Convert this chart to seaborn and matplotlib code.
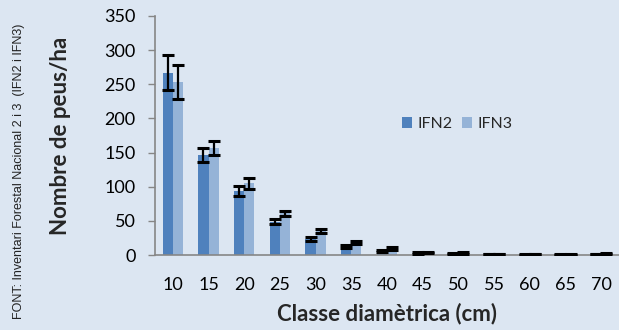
import matplotlib
matplotlib.use("Agg")
import matplotlib.pyplot as plt
import seaborn as sns
import pandas as pd
import numpy as np

classes = ["10", "15", "20", "25", "30", "35", "40", "45", "50", "55", "60", "65", "70"]
ifn2 = [267, 146, 94, 49, 24, 12, 6, 3, 2, 1.5, 1, 0.5, 1.5]
ifn3 = [253, 157, 105, 61, 35, 18, 10, 4, 3, 1.5, 1.5, 0.5, 2]
ifn2_err = [26, 10, 7, 4, 3, 2, 2, 1, 1, 0.5, 0.5, 0.5, 0.5]
ifn3_err = [25, 10, 8, 4, 3, 2, 2, 1, 1, 0.5, 0.5, 0.5, 0.5]
series = ["IFN2", "IFN3"]

bg = "#dce6f2"
colors = ["#4f81bd", "#95b3d7"]
axis_gray = "#868686"

df = pd.DataFrame({
    "classe": classes * 2,
    "valor": ifn2 + ifn3,
    "serie": [series[0]] * len(classes) + [series[1]] * len(classes),
})

sns.set_style("white")
plt.rcParams["font.family"] = ["Lato", "DejaVu Sans"]

fig = plt.figure(figsize=(6.19, 3.30), dpi=100, facecolor=bg)
ax = fig.add_axes([155 / 619, 1 - 255 / 330, 464 / 619, 239 / 330])
ax.set_facecolor(bg)

sns.barplot(data=df, x="classe", y="valor", hue="serie", palette=colors,
            width=0.57, gap=0, errorbar=None, ax=ax, saturation=1,
            edgecolor="none", linewidth=0)

for cont, errs in zip(ax.containers, [ifn2_err, ifn3_err]):
    xs = [b.get_x() + b.get_width() / 2 for b in cont]
    hs = [b.get_height() for b in cont]
    ax.errorbar(xs, hs, yerr=errs, fmt="none", ecolor="black",
                elinewidth=1.6, capsize=4.3, capthick=2.2, zorder=5)

ax.set_ylim(0, 350)
ax.set_yticks(range(0, 351, 50))
ax.set_xlim(-0.5, len(classes) - 0.5)

for s in ["top", "right"]:
    ax.spines[s].set_visible(False)
for s in ["left", "bottom"]:
    ax.spines[s].set_color(axis_gray)
    ax.spines[s].set_linewidth(1.2)

ax.tick_params(axis="y", which="both", left=True, length=5, width=1,
               color=axis_gray, labelsize=13, pad=9, labelcolor="black")
ax.tick_params(axis="x", bottom=False, labelsize=13, pad=12, labelcolor="black")

ax.set_xlabel("Classe diamètrica (cm)", fontsize=16, fontweight="bold")
ax.set_ylabel("Nombre de peus/ha", fontsize=16, fontweight="bold")
ax.xaxis.set_label_coords(0.5, -0.243)
ax.xaxis.label.set_va("center")
ax.yaxis.set_label_coords(-0.2047, 0.5)
ax.yaxis.label.set_va("center")
ax.yaxis.label.set_ha("center")

leg = ax.legend(loc="center", bbox_to_anchor=(0.651, 0.548), ncol=2, frameon=False,
                handlelength=0.63, handleheight=0.63, columnspacing=0.55,
                handletextpad=0.35, fontsize=11.5)
leg.set_title(None)

fig.text(19 / 619, 0.48, "FONT: Inventari Forestal Nacional 2 i 3  (IFN2 i IFN3)",
         rotation=90, ha="center", va="center", fontsize=9,
         family=["Liberation Sans Narrow", "Liberation Sans", "DejaVu Sans"], color="#222222")

fig.savefig("out.png", dpi=100, facecolor=bg)
